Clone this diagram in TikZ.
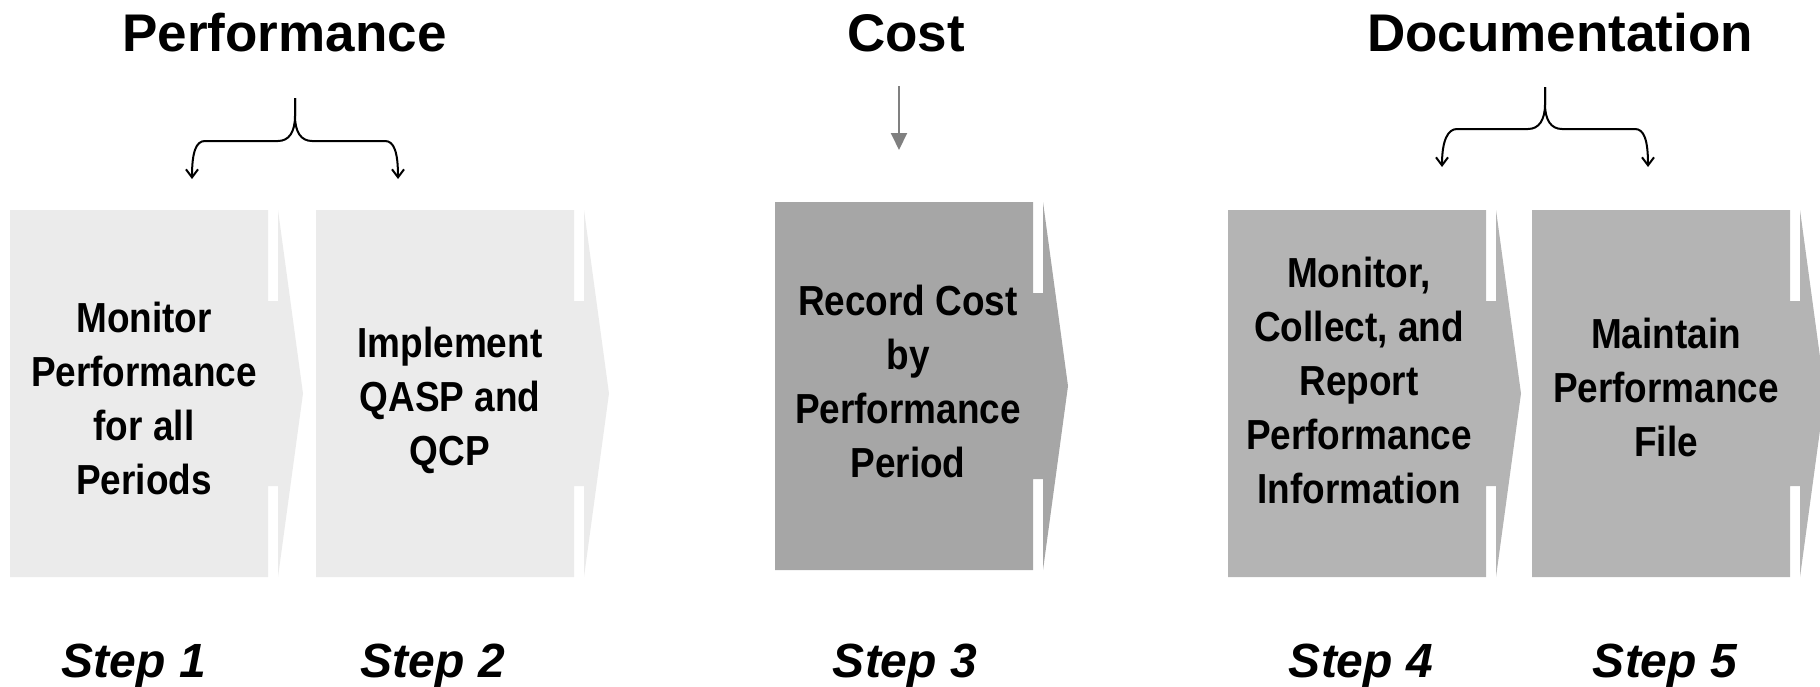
\documentclass[tikz,border=0pt]{standalone}
\usepackage{fontspec}
\setmainfont{Liberation Sans}
\newfontfamily\narrowfont{Liberation Sans}[FakeStretch=0.88]
\usetikzlibrary{arrows.meta}

\definecolor{stepLight}{RGB}{235,235,235}
\definecolor{stepDark}{RGB}{166,166,166}
\definecolor{stepMid}{RGB}{180,180,180}
\definecolor{arrowGray}{RGB}{128,128,128}

% chevron block: fill colour, left x, top y, bottom y
\newcommand\chevronbox[4]{%
  \pgfmathsetmacro\cbR{#2+258}%
  \pgfmathsetmacro\cbS{#2+268}%
  \pgfmathsetmacro\cbP{#2+293}%
  \pgfmathsetmacro\cbM{(#3+#4)/2}%
  \pgfmathsetmacro\cbA{#3+91}%
  \pgfmathsetmacro\cbB{#4-91}%
  \fill[#1] (#2,#3) -- (\cbR,#3) -- (\cbR,\cbA) -- (\cbS,\cbA) -- (\cbS,#3)
    -- (\cbP,\cbM) -- (\cbS,#4) -- (\cbS,\cbB) -- (\cbR,\cbB) -- (\cbR,#4)
    -- (#2,#4) -- cycle;%
}

\tikzset{
  heading/.style={font=\bfseries\fontsize{26.5}{30}\selectfont, anchor=base, inner sep=0pt},
  boxtext/.style={font=\narrowfont\bfseries\fontsize{21}{27}\selectfont, align=center, inner sep=0pt},
  steplabel/.style={font=\bfseries\itshape\fontsize{24}{28}\selectfont, anchor=base, inner sep=0pt},
  brace/.style={line width=1pt, -{Straight Barb[length=4pt,width=6pt]}},
  costarrow/.style={arrowGray, line width=1pt, -{Triangle[length=8.5pt,width=8pt]}},
}

\begin{document}
\begin{tikzpicture}[x=0.5pt, y=-0.5pt]
  \clip (0,0) rectangle (1820,686);

  % process blocks
  \chevronbox{stepLight}{10}{210}{577}
  \chevronbox{stepLight}{316}{210}{577}
  \chevronbox{stepDark}{775}{202}{570}
  \chevronbox{stepMid}{1228}{210}{577}
  \chevronbox{stepMid}{1532}{210}{577}

  \node[boxtext] (t1) at (144,398) {Monitor\\Performance\\for all\\Periods};
  \node[boxtext] (t2) at (450,400) {Implement\\QASP and\\QCP};
  \node[boxtext] (t3) at (908,381) {Record Cost\\by\\Performance\\Period};
  \node[boxtext] (t4) at (1359,380) {Monitor,\\Collect, and\\Report\\Performance\\Information};
  \node[boxtext] (t5) at (1666,387) {Maintain\\Performance\\File};

  % headings
  \node[heading] (perf) at (284.5,51) {Performance};
  \node[heading] (cost) at (906,51) {Cost};
  \node[heading] (doc) at (1560,51) {Documentation};

  % brace over steps 1 and 2
  \coordinate (b1top) at (295,98);
  \coordinate (b1l) at (192,179);
  \coordinate (b1r) at (398,179);
  \draw[brace] (b1top) -- (295,116) .. controls (295,132) and (289,141) .. (278,141)
    -- (205,141) .. controls (196,141) and (192,152) .. (b1l);
  \draw[brace] (b1top) -- (295,116) .. controls (295,132) and (301,141) .. (312,141)
    -- (385,141) .. controls (394,141) and (398,152) .. (b1r);

  % brace over steps 4 and 5
  \coordinate (b2top) at (1545,87);
  \coordinate (b2l) at (1442,167);
  \coordinate (b2r) at (1648,167);
  \draw[brace] (b2top) -- (1545,104) .. controls (1545,120) and (1539,129) .. (1528,129)
    -- (1457,129) .. controls (1448,129) and (1442,140) .. (b2l);
  \draw[brace] (b2top) -- (1545,104) .. controls (1545,120) and (1551,129) .. (1562,129)
    -- (1635,129) .. controls (1644,129) and (1648,140) .. (b2r);

  % cost arrow
  \coordinate (ctop) at (899,86);
  \coordinate (cend) at (899,150);
  \draw[costarrow] (ctop) -- (cend);

  % step labels
  \node[steplabel] (s1) at (134,677) {Step 1};
  \node[steplabel] (s2) at (433,677) {Step 2};
  \node[steplabel] (s3) at (905,677) {Step 3};
  \node[steplabel] (s4) at (1361,677) {Step 4};
  \node[steplabel] (s5) at (1665,677) {Step 5};
\end{tikzpicture}
\end{document}
